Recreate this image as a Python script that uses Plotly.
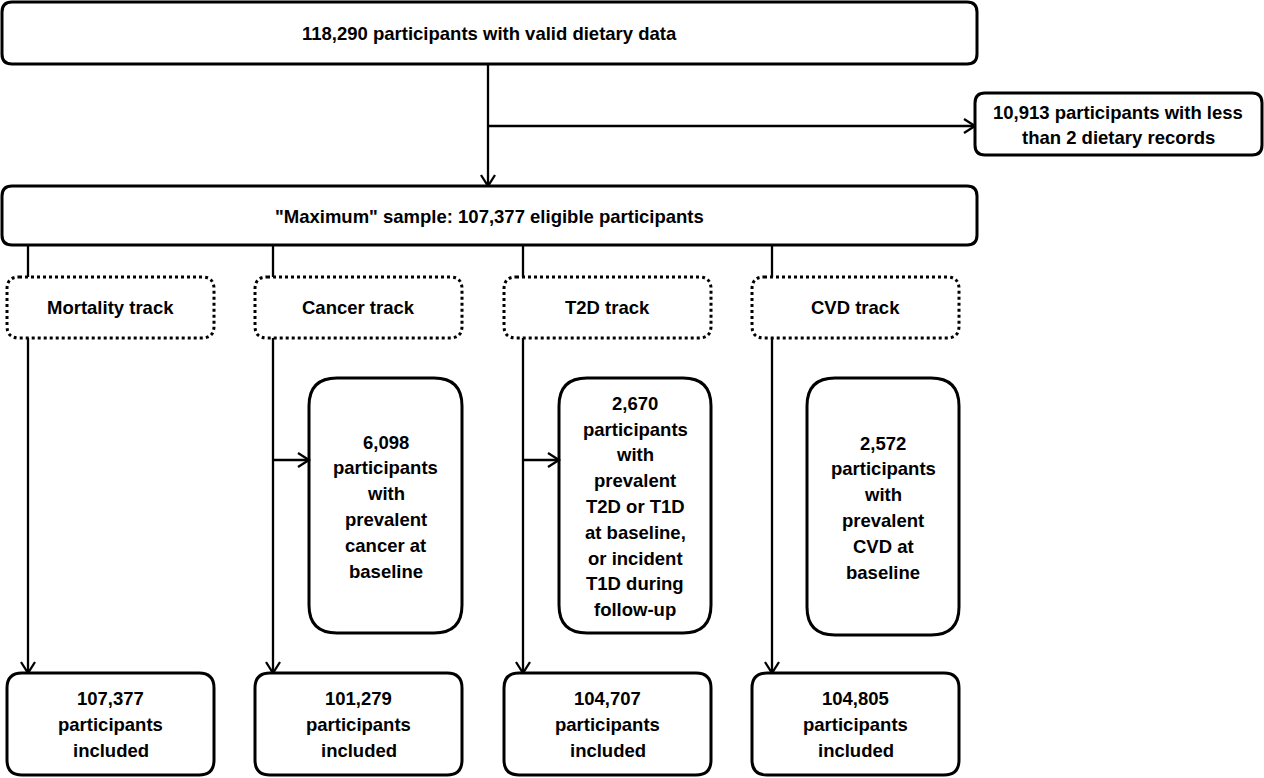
import plotly.graph_objects as go

# ---- text content ----
top_label = "118,290 participants with valid dietary data"
excluded_top = ["10,913 participants with less", "than 2 dietary records"]
max_label = "\"Maximum\" sample: 107,377 eligible participants"
track_names = ["Mortality track", "Cancer track", "T2D track", "CVD track"]
track_exclusions = [
    None,
    ["6,098", "participants", "with", "prevalent", "cancer at", "baseline"],
    ["2,670", "participants", "with", "prevalent", "T2D or T1D", "at baseline,",
     "or incident", "T1D during", "follow-up"],
    ["2,572", "participants", "with", "prevalent", "CVD at", "baseline"],
]
track_arrow_to_exclusion = [False, True, True, False]
included_counts = ["107,377", "101,279", "104,707", "104,805"]

# ---- layout geometry (pixels) ----
W, H = 1264, 778
FONT = "Liberation Sans, Arial, sans-serif"
FS = 18.5
LINE = 25.8
TRACK_LEFT = [7, 255, 504, 752]
TRACK_W = 207
CONN_X = [28, 273, 523, 772]
EXCL_BOX = [None, (309, 378, 462, 633), (559, 378, 711, 633), (807, 378, 959, 635)]

shapes = []
annotations = []


def rrect(x0, y0, x1, y1, r, dash="solid", width=3):
    p = (f"M {x0+r},{y0} L {x1-r},{y0} Q {x1},{y0} {x1},{y0+r} "
         f"L {x1},{y1-r} Q {x1},{y1} {x1-r},{y1} L {x0+r},{y1} "
         f"Q {x0},{y1} {x0},{y1-r} L {x0},{y0+r} Q {x0},{y0} {x0+r},{y0} Z")
    shapes.append(dict(type="path", path=p, xref="x", yref="y",
                       line=dict(color="black", width=width, dash=dash),
                       fillcolor="white", layer="above"))


def line(x0, y0, x1, y1, width=2.3):
    shapes.append(dict(type="line", x0=x0, y0=y0, x1=x1, y1=y1, xref="x", yref="y",
                       line=dict(color="black", width=width), layer="below"))


def head(x, y, direction):
    a, b = 11, 7
    if direction == "down":
        p = f"M {x-b},{y-a} L {x},{y} L {x+b},{y-a}"
    else:
        p = f"M {x-a},{y-b} L {x},{y} L {x-a},{y+b}"
    shapes.append(dict(type="path", path=p, xref="x", yref="y",
                       line=dict(color="black", width=2.3), layer="above"))


def text_lines(lines, xc, yc):
    n = len(lines)
    for i, t in enumerate(lines):
        y = yc + (i - (n - 1) / 2) * LINE
        annotations.append(dict(x=xc, y=y, xref="x", yref="y", text=f"<b>{t}</b>",
                                showarrow=False, xanchor="center", yanchor="middle",
                                font=dict(family=FONT, size=FS, color="black")))


# top part
line(488, 64, 488, 186)
head(488, 186, "down")
line(488, 126, 975, 126)
head(975, 126, "right")
rrect(2, 2, 977, 64, 10)
text_lines([top_label], 489, 33)
rrect(975, 93, 1262, 155, 10)
text_lines(excluded_top, 1118, 125)
rrect(2, 186, 977, 245, 10)
text_lines([max_label], 489, 216)

for i, name in enumerate(track_names):
    cx = CONN_X[i]
    xl = TRACK_LEFT[i]
    line(cx, 245, cx, 277)
    rrect(xl, 277, xl + TRACK_W, 338, 12, dash="dot", width=3)
    text_lines([name], xl + TRACK_W / 2, 307)
    line(cx, 338, cx, 673)
    head(cx, 673, "down")
    if track_exclusions[i] is not None:
        x0, y0, x1, y1 = EXCL_BOX[i]
        rrect(x0, y0, x1, y1, 28)
        text_lines(track_exclusions[i], (x0 + x1) / 2, (y0 + y1) / 2 + 1)
        if track_arrow_to_exclusion[i]:
            line(cx, 460, x0, 460)
            head(x0, 460, "right")
    rrect(xl, 673, xl + TRACK_W, 775, 15)
    text_lines([included_counts[i], "participants", "included"], xl + TRACK_W / 2, 724.5)

fig = go.Figure()
fig.update_layout(
    width=W, height=H, margin=dict(l=0, r=0, t=0, b=0),
    paper_bgcolor="white", plot_bgcolor="white",
    xaxis=dict(range=[0, W], visible=False, fixedrange=True),
    yaxis=dict(range=[H, 0], visible=False, fixedrange=True),
    shapes=shapes, annotations=annotations, showlegend=False,
)
fig.write_html("out.html", config={"displayModeBar": False},
               post_script="document.body.style.margin='0';document.body.style.overflow='hidden';")
